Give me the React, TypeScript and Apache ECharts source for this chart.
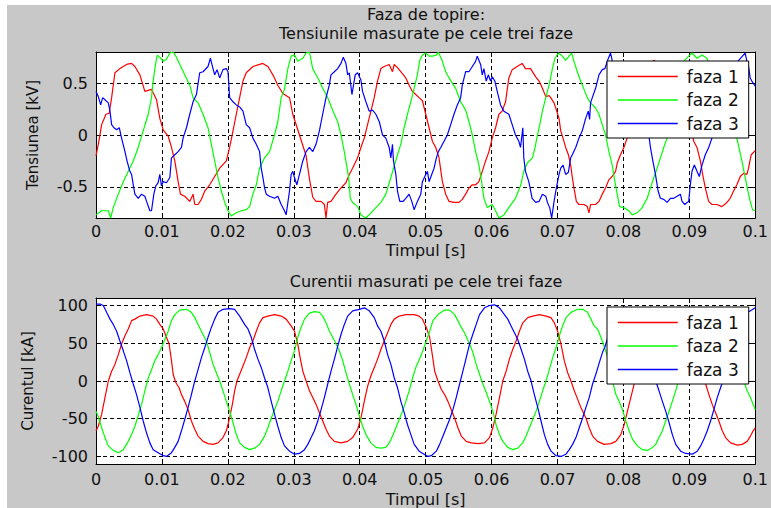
import React, { useEffect, useRef } from 'react';
import * as echarts from 'echarts';

// ---------- data (time in ms, values in kV / kA) ----------
const phaseNames = ['faza 1', 'faza 2', 'faza 3'];
const phaseColors = ['#ff0000', '#00ff00', '#0000ff'];
const voltTicks = [-0.5, 0, 0.5];
const currTicks = [-100, -50, 0, 50, 100];
const titleTop1 = 'Faza de topire:';
const titleTop2 = 'Tensiunile masurate pe cele trei faze';
const titleBottom = 'Curentii masurati pe cele trei faze';
const xName = 'Timpul [s]';
const yNameTop = 'Tensiunea [kV]';
const yNameBottom = 'Curentul [kA]';

const voltFaza1: [number, number][] = [
  [0,-0.2],[0.35,-0.09],[0.86,0.1],[1.51,0.2],[2.0,0.21],[2.37,0.36],[2.87,0.6],[3.63,0.64],[4.64,0.68],[5.4,0.69],[5.9,0.66],[6.66,0.58],[7.41,0.42],[8.42,0.44],[9.18,0.34],[9.68,0.16],[10.19,0.05],[10.94,-0.01],[11.45,-0.12],[11.95,-0.25],[12.46,-0.45],[12.81,-0.57],[13.46,-0.59],[14.22,-0.64],[14.72,-0.57],[14.98,-0.67],[15.48,-0.67],[15.99,-0.62],[16.49,-0.54],[17.25,-0.48],[18.0,-0.4],[18.76,-0.32],[19.77,-0.25],[20.27,-0.12],[20.78,0.04],[21.28,0.2],[21.79,0.36],[22.29,0.52],[22.79,0.6],[23.8,0.66],[25.3,0.69],[26.07,0.66],[26.83,0.58],[27.58,0.48],[28.34,0.4],[29.35,0.36],[29.85,0.2],[30.86,0.0],[31.87,-0.2],[32.37,-0.42],[32.88,-0.6],
  [33.37,-0.64],[34.13,-0.64],[34.64,-0.67],[34.89,-0.8],[35.14,-0.65],[35.64,-0.64],[36.4,-0.57],[37.16,-0.51],[37.91,-0.46],[38.42,-0.38],[38.92,-0.32],[39.68,-0.22],[40.18,-0.12],[40.69,-0.03],[41.19,0.1],[41.7,0.23],[42.2,0.36],[42.7,0.52],[43.21,0.64],[43.71,0.66],[44.47,0.68],[44.97,0.61],[45.23,0.68],[45.73,0.65],[46.23,0.61],[46.99,0.55],[47.49,0.48],[48.0,0.42],[48.5,0.39],[49.01,0.36],[49.51,0.33],[50.02,0.2],[50.52,0.07],[51.02,-0.06],[51.53,-0.12],[52.03,-0.22],[52.54,-0.45],[53.04,-0.57],[53.55,-0.64],[54.3,-0.65],[55.06,-0.65],[55.56,-0.62],[56.07,-0.57],[56.57,-0.51],[57.08,-0.48],[57.58,-0.48],[58.08,-0.45],[58.59,-0.35],[59.09,-0.25],[59.6,-0.16],[60.1,-0.03],[60.61,0.07],[61.11,0.2],[61.61,0.23],[62.12,0.32],[62.62,0.55],[63.13,0.63],[63.88,0.66],[64.64,0.69],[65.14,0.64],[65.9,0.64],
  [66.7,0.56],[67.21,0.52],[67.71,0.45],[68.22,0.37],[68.72,0.38],[68.97,0.36],[69.48,0.31],[69.83,0.24],[70.23,0.16],[70.49,0.04],[70.84,-0.03],[71.24,-0.12],[71.65,-0.19],[72.0,-0.29],[72.25,-0.41],[72.5,-0.51],[72.86,-0.64],[73.26,-0.67],[74.02,-0.67],[74.52,-0.69],[74.77,-0.75],[75.02,-0.67],[75.78,-0.67],[76.29,-0.64],[76.79,-0.57],[77.29,-0.51],[77.8,-0.43],[78.3,-0.4],[78.81,-0.35],[79.06,-0.27],[79.56,-0.19],[80.07,-0.12],[80.57,-0.03],[81.08,0.0],[81.5,0.12],[82.3,0.3],[83.0,0.52],[83.6,0.63],[84.6,0.72],[85.5,0.68],[86.5,0.62],[87.5,0.5],[88.5,0.4],[89.3,0.35],[90.0,0.15],[90.66,-0.06],[91.16,-0.12],[91.67,-0.25],[92.02,-0.38],[92.42,-0.51],[92.93,-0.64],[93.43,-0.67],[94.19,-0.67],[94.94,-0.69],[95.7,-0.65],[96.2,-0.61],[96.71,-0.54],[97.21,-0.48],[97.72,-0.4],[98.22,-0.37],[98.73,-0.38],[98.98,-0.32],[99.38,-0.19],[100,-0.15]
];

const voltFaza2: [number, number][] = [
  [0,-0.77],[0.86,-0.73],[1.87,-0.73],[2.22,-0.8],[2.62,-0.7],[3.38,-0.57],[4.14,-0.45],[4.89,-0.35],[5.65,-0.25],[6.4,-0.12],[7.16,0.04],[7.92,0.2],[8.42,0.36],[8.67,0.52],[8.93,0.64],[9.28,0.77],[9.68,0.75],[10.19,0.71],[10.69,0.73],[11.2,0.79],[11.7,0.8],[12.2,0.75],[12.71,0.68],[13.46,0.58],[14.22,0.48],[14.72,0.36],[15.48,0.31],[16.24,0.2],[16.99,0.07],[17.5,-0.09],[18.0,-0.25],[18.51,-0.41],[19.01,-0.54],[19.52,-0.65],[20.02,-0.73],[20.52,-0.78],[21.28,-0.75],[22.04,-0.73],[22.79,-0.72],[23.3,-0.69],[23.8,-0.57],[24.31,-0.48],[24.81,-0.32],[25.57,-0.22],[26.32,-0.16],[27.08,0.0],[27.58,0.13],[28.09,0.36],[28.59,0.44],[29.1,0.64],[29.6,0.76],[30.1,0.77],[30.61,0.71],[31.37,0.74],[31.87,0.79],[32.37,0.8],
  [32.87,0.64],[33.37,0.58],[33.88,0.52],[34.38,0.45],[35.14,0.36],[35.64,0.28],[36.15,0.2],[36.65,0.13],[37.16,0.0],[37.66,-0.16],[38.01,-0.29],[38.32,-0.41],[38.57,-0.61],[38.92,-0.65],[39.68,-0.69],[40.18,-0.77],[40.94,-0.8],[41.7,-0.75],[42.45,-0.7],[43.21,-0.65],[43.96,-0.57],[44.72,-0.41],[45.23,-0.3],[45.73,-0.19],[46.23,-0.09],[46.74,0.07],[47.24,0.2],[47.75,0.32],[48.25,0.45],[48.75,0.58],[49.11,0.72],[49.51,0.77],[50.02,0.79],[50.52,0.76],[51.02,0.76],[51.63,0.77],[51.93,0.8],[52.54,0.71],[53.04,0.61],[53.55,0.55],[54.05,0.5],[54.55,0.45],[55.31,0.32],[56.07,0.24],[56.57,0.13],[57.08,0.0],[57.58,-0.16],[58.08,-0.29],[58.49,-0.45],[58.84,-0.61],[59.35,-0.7],[60.1,-0.67],[60.61,-0.73],[61.11,-0.8],[61.87,-0.77],[62.62,-0.7],[63.63,-0.61],[64.39,-0.49],[64.89,-0.35],[65.4,-0.27],
  [66.2,-0.22],[66.6,-0.12],[66.96,0.0],[67.31,0.1],[67.71,0.23],[68.22,0.36],[68.72,0.48],[69.23,0.64],[69.63,0.74],[70.13,0.79],[70.74,0.76],[71.24,0.72],[71.75,0.76],[72.15,0.79],[72.5,0.71],[73.01,0.61],[73.51,0.52],[74.02,0.44],[74.52,0.36],[75.02,0.31],[75.78,0.26],[76.29,0.2],[76.79,0.1],[77.29,0.0],[77.8,-0.16],[78.3,-0.29],[78.71,-0.45],[79.06,-0.57],[79.41,-0.69],[80.07,-0.7],[80.82,-0.73],[81.33,-0.77],[82.08,-0.75],[82.84,-0.7],[83.6,-0.61],[84.1,-0.51],[84.61,-0.41],[85.11,-0.32],[85.61,-0.22],[86.12,-0.12],[86.62,-0.03],[87.3,0.15],[87.9,0.35],[88.5,0.55],[89.0,0.7],[89.9,0.76],[90.4,0.79],[91.16,0.74],[91.92,0.77],[92.67,0.74],[93.5,0.6],[94.5,0.45],[95.5,0.32],[96.5,0.15],[97.21,-0.03],[97.97,-0.25],[98.47,-0.41],[98.88,-0.54],[99.23,-0.64],[99.58,-0.72],[100,-0.73]
];

const voltFaza3: [number, number][] = [
  [0,0.42],[0.35,0.37],[0.71,0.29],[1.01,0.36],[1.36,0.34],[1.87,0.31],[2.12,0.23],[2.37,0.1],[2.72,0.07],[3.13,0.05],[3.53,0.07],[3.88,-0.03],[4.39,-0.16],[4.79,-0.27],[5.14,-0.35],[5.4,-0.38],[5.65,-0.48],[5.9,-0.57],[6.4,-0.61],[6.91,-0.57],[7.41,-0.59],[7.67,-0.64],[8.17,-0.73],[8.42,-0.73],[8.77,-0.57],[9.08,-0.49],[9.43,-0.46],[9.68,-0.38],[9.93,-0.49],[10.19,-0.45],[10.69,-0.46],[11.2,-0.41],[11.45,-0.22],[11.95,-0.19],[12.46,-0.16],[12.96,-0.12],[13.21,-0.03],[13.72,0.07],[14.22,0.2],[14.72,0.32],[15.23,0.39],[15.73,0.6],[16.24,0.61],[16.99,0.66],[17.35,0.74],[17.75,0.64],[18.0,0.58],[18.36,0.63],[18.76,0.55],[19.26,0.63],[19.77,0.64],[20.02,0.61],[20.27,0.36],[20.78,0.32],[21.28,0.29],[21.79,0.27],[22.29,0.23],[22.79,0.1],[23.3,0.07],[23.8,-0.03],[24.31,-0.09],[24.81,-0.16],[25.06,-0.32],[25.32,-0.41],[25.57,-0.51],[25.82,-0.57],[26.32,-0.59],[27.08,-0.61],[27.58,-0.59],[28.09,-0.67],[28.59,-0.73],[28.84,-0.77],[29.35,-0.54],[29.6,-0.38],[29.85,-0.35],[30.1,-0.41],[30.46,-0.48],[30.86,-0.38],[31.37,-0.25],[31.87,-0.16],[32.37,-0.12],[32.88,-0.16],
  [33.37,-0.09],[33.88,0.04],[34.38,0.2],[34.89,0.36],[35.39,0.48],[35.64,0.58],[36.15,0.61],[36.65,0.64],[37.16,0.69],[37.51,0.75],[37.91,0.69],[38.17,0.58],[38.42,0.6],[38.82,0.39],[39.32,0.58],[39.68,0.6],[40.18,0.53],[40.43,0.42],[40.94,0.32],[41.44,0.23],[41.95,0.24],[42.45,0.2],[42.96,0.13],[43.46,0.0],[43.96,-0.03],[44.47,-0.12],[44.72,-0.22],[44.97,-0.09],[45.12,-0.25],[45.48,-0.38],[45.73,-0.54],[46.08,-0.64],[46.59,-0.64],[46.99,-0.61],[47.49,-0.57],[47.9,-0.64],[48.25,-0.72],[48.75,-0.64],[49.26,-0.57],[49.51,-0.45],[50.02,-0.38],[50.27,-0.35],[50.52,-0.45],[50.92,-0.38],[51.28,-0.32],[51.63,-0.22],[51.93,-0.16],[52.29,-0.12],[52.79,-0.06],[53.29,0.0],[53.8,0.1],[54.3,0.2],[54.81,0.29],[55.31,0.36],[55.56,0.48],[56.07,0.61],[56.57,0.61],[57.08,0.66],[57.58,0.71],[57.83,0.76],[58.34,0.68],[58.59,0.58],[58.84,0.64],[59.19,0.52],[59.5,0.58],[59.85,0.52],[60.1,0.56],[60.5,0.52],[60.86,0.42],[61.36,0.29],[61.87,0.23],[62.62,0.2],[63.13,0.1],[63.63,0.0],[64.14,-0.06],[64.39,-0.12],[64.74,0.07],[64.89,-0.22],[65.14,-0.35],[65.65,-0.45],[66.15,-0.61],
  [66.7,-0.65],[67.21,-0.64],[67.71,-0.57],[68.22,-0.59],[68.47,-0.65],[68.82,-0.7],[69.12,-0.8],[69.48,-0.64],[69.83,-0.51],[70.23,-0.38],[70.49,-0.32],[70.84,-0.29],[71.24,-0.38],[71.65,-0.36],[72.0,-0.22],[72.25,-0.19],[72.76,-0.12],[73.26,-0.03],[73.76,0.04],[74.27,0.16],[74.67,0.23],[74.87,0.15],[75.02,0.31],[75.28,0.36],[75.78,0.45],[76.29,0.58],[76.79,0.63],[77.19,0.64],[77.6,0.72],[78.05,0.79],[78.5,0.66],[79.2,0.6],[80.0,0.58],[80.8,0.45],[81.6,0.32],[82.4,0.25],[83.2,0.12],[83.85,0.0],[84.1,-0.12],[84.46,-0.25],[84.86,-0.38],[85.26,-0.54],[85.61,-0.61],[86.12,-0.62],[86.62,-0.65],[87.13,-0.61],[87.63,-0.61],[88.14,-0.59],[88.64,-0.57],[88.89,-0.64],[89.3,-0.67],[89.65,-0.65],[89.9,-0.64],[90.15,-0.48],[90.4,-0.35],[90.76,-0.29],[91.16,-0.35],[91.51,-0.4],[91.92,-0.29],[92.42,-0.19],[92.93,-0.12],[93.43,-0.03],[94.2,0.15],[95.0,0.3],[95.8,0.45],[96.5,0.6],[97.2,0.7],[98.47,0.79],[98.73,0.71],[98.98,0.66],[99.23,0.55],[99.48,0.52],[100,0.47]
];

const currFaza1: [number, number][] = [
  [0,-66],[0.35,-60],[0.86,-44],[1.36,-22],[1.87,0],[2.37,13],[2.87,22],[3.38,35],[3.88,49],[4.39,60],[4.89,69],[5.4,80],[5.9,82],[6.66,86],[7.67,88],[8.67,86],[9.18,82],[9.68,75],[10.19,69],[10.69,58],[11.09,49],[11.45,27],[11.7,9],[12.1,-2],[12.61,-9],[12.96,-18],[13.46,-27],[13.97,-38],[14.47,-53],[14.98,-64],[15.48,-73],[16.24,-80],[16.99,-83],[17.75,-84],[18.51,-82],[19.26,-75],[19.77,-66],[20.27,-49],[20.68,-31],[21.03,-13],[21.38,0],[21.79,9],[22.29,20],[22.79,31],[23.3,44],[23.8,53],[24.31,66],[24.81,77],[25.32,84],[26.07,86],[27.08,88],[28.09,86],[28.84,82],[29.6,73],[30.1,66],[30.61,49],[30.96,31],[31.37,13],[31.87,0],[32.37,-13],[32.88,-22],[33.38,-31],[33.89,-42],[34.39,-53],[34.9,-64],[35.4,-73],[36.16,-80],[37.17,-82],[38.17,-80],[38.93,-75],[39.69,-64],[40.19,-49],[40.69,-27],[41.2,-7],[41.7,7],[42.21,18],[42.71,29],[43.22,42],[43.72,53],[44.23,64],[44.73,75],[45.24,82],[45.99,86],[47.0,88],[48.26,88],[49.02,86],[49.52,82],
  [50.1,71],[50.61,58],[51.01,35],[51.37,13],[51.87,0],[52.37,-11],[52.88,-18],[53.38,-27],[53.89,-38],[54.39,-49],[54.9,-62],[55.4,-73],[56.16,-80],[56.91,-82],[57.92,-83],[58.93,-82],[59.69,-75],[60.19,-62],[60.69,-44],[61.2,-22],[61.7,0],[62.21,13],[62.71,29],[63.22,42],[63.72,53],[64.22,66],[64.73,77],[65.48,84],[66.24,86],[67.25,88],[68.26,86],[69.01,84],[69.52,77],[70.02,66],[70.53,49],[71.03,27],[71.54,11],[72.04,0],[72.55,-13],[73.05,-24],[73.55,-35],[74.31,-49],[74.81,-62],[75.32,-73],[76.07,-80],[77.08,-84],[78.09,-83],[78.85,-80],[79.6,-71],[80.11,-58],[80.61,-40],[81.12,-22],[81.62,-4],[82.3,15],[83.0,33],[83.6,50],[84.2,66],[84.8,77],[85.6,84],[86.5,86],[87.5,88],[88.5,86],[89.3,84],[89.8,77],[90.3,66],[90.8,49],[91.3,27],[91.8,11],[92.36,-1],[92.97,-18],[93.47,-31],[93.98,-42],[94.48,-53],[94.99,-66],[95.49,-75],[96.25,-82],[97.26,-85],[98.01,-84],[98.77,-80],[99.27,-73],[99.68,-66],[100,-62]
];

const currFaza2: [number, number][] = [
  [0,-40],[0.35,-47],[0.86,-62],[1.36,-75],[1.87,-86],[2.62,-92],[3.38,-95],[4.14,-91],[4.89,-80],[5.4,-71],[5.9,-60],[6.4,-46],[6.91,-31],[7.41,-13],[7.92,4],[8.42,15],[8.93,27],[9.43,35],[9.93,44],[10.44,55],[10.94,66],[11.45,80],[11.95,88],[12.71,94],[13.72,95],[14.47,91],[14.98,84],[15.48,75],[15.99,66],[16.74,53],[17.25,38],[17.75,22],[18.26,11],[18.76,0],[19.26,-13],[19.77,-27],[20.27,-40],[20.78,-55],[21.28,-71],[21.79,-82],[22.54,-88],[23.3,-91],[24.05,-89],[24.81,-84],[25.57,-73],[26.07,-62],[26.58,-49],[27.08,-38],[27.58,-27],[28.09,-13],[28.59,0],[29.1,13],[29.6,27],[30.11,40],[30.61,58],[31.11,71],[31.62,82],[32.37,90],[33.13,92],[33.89,91],[34.39,86],[34.9,77],[35.4,66],[35.9,58],[36.41,49],[36.91,40],[37.42,27],[37.92,11],[38.43,-4],[38.93,-18],[39.43,-31],[39.94,-46],[40.44,-60],[40.95,-71],[41.7,-82],[42.46,-88],[43.22,-89],[43.97,-88],[44.48,-82],[44.98,-73],[45.49,-62],[45.99,-51],[46.49,-40],[47.0,-27],[47.5,-13],[48.01,4],[48.51,18],[49.27,33],
  [50.1,53],[50.61,66],[51.11,80],[51.87,88],[52.88,94],[53.63,94],[54.39,88],[54.9,80],[55.4,71],[55.9,64],[56.66,49],[57.16,38],[57.67,22],[58.17,9],[58.68,-4],[59.18,-15],[59.69,-27],[60.19,-40],[60.69,-58],[61.2,-71],[61.7,-80],[62.46,-88],[63.22,-91],[63.97,-89],[64.73,-82],[65.23,-73],[65.74,-62],[66.24,-51],[66.75,-40],[67.25,-27],[67.75,-13],[68.26,0],[68.76,15],[69.27,31],[69.77,44],[70.28,60],[70.78,73],[71.28,84],[72.04,91],[73.05,95],[73.81,95],[74.56,91],[75.07,82],[75.57,73],[76.07,69],[76.58,58],[77.08,46],[77.5,35],[78.0,15],[78.34,0],[78.85,-18],[79.35,-27],[79.86,-38],[80.36,-53],[80.87,-66],[81.37,-77],[82.13,-86],[82.88,-91],[83.64,-92],[84.4,-88],[84.9,-84],[85.4,-75],[85.91,-66],[86.41,-53],[86.92,-40],[87.42,-27],[87.93,-13],[88.33,0],[88.8,15],[89.3,31],[89.8,46],[90.3,62],[90.8,75],[91.3,85],[92.0,91],[93.0,95],[93.8,94],[94.5,90],[95.0,82],[95.5,73],[96.0,66],[96.6,53],[97.1,38],[97.6,22],[98.0,8],[98.26,0],[98.77,-13],[99.27,-22],[99.78,-33],[100,-38]
];

const currFaza3: [number, number][] = [
  [0,102],[0.61,102],[1.11,100],[1.61,91],[2.12,82],[2.62,75],[3.13,66],[3.63,53],[4.14,40],[4.64,27],[5.14,11],[5.65,-4],[6.15,-18],[6.66,-35],[7.16,-53],[7.67,-69],[8.17,-82],[8.67,-91],[9.43,-95],[10.19,-99],[10.69,-100],[11.45,-95],[11.95,-88],[12.46,-80],[12.96,-66],[13.46,-51],[13.97,-35],[14.47,-18],[14.98,0],[15.48,15],[15.99,31],[16.49,44],[16.99,58],[17.5,71],[18.0,82],[18.51,91],[19.26,95],[20.27,96],[21.03,95],[21.79,86],[22.54,75],[23.05,69],[23.55,58],[24.05,42],[24.56,29],[25.06,18],[25.57,4],[26.07,-9],[26.58,-27],[27.08,-44],[27.58,-60],[28.09,-75],[28.59,-86],[29.35,-93],[30.11,-97],[30.86,-96],[31.62,-91],[32.13,-84],[32.63,-75],[33.13,-66],[33.64,-53],[34.14,-38],[34.64,-22],[35.15,-4],[35.65,13],[36.16,29],[36.66,46],[37.17,62],[37.67,75],[38.17,86],[38.93,93],[39.94,95],[40.7,97],[41.45,93],[42.21,84],[42.71,73],[43.22,66],[43.72,53],[44.23,35],[44.73,22],[45.24,4],[45.74,-9],[46.24,-27],[46.75,-42],[47.25,-58],[47.76,-71],[48.26,-84],[49.02,-93],[49.77,-97],
  [50.36,-100],[50.86,-99],[51.62,-93],[52.12,-84],[52.63,-73],[53.13,-62],[53.63,-51],[54.14,-38],[54.64,-22],[55.15,-4],[55.65,13],[56.16,31],[56.66,49],[57.16,62],[57.67,75],[58.17,88],[58.93,97],[59.69,100],[60.44,101],[61.2,97],[61.7,91],[62.46,82],[62.96,73],[63.47,64],[63.97,55],[64.48,42],[64.98,29],[65.48,13],[65.99,0],[66.49,-18],[67.0,-35],[67.5,-53],[68.01,-71],[68.51,-84],[69.02,-93],[69.77,-99],[70.53,-100],[71.28,-97],[71.79,-91],[72.29,-84],[72.8,-75],[73.3,-62],[73.81,-49],[74.31,-35],[74.81,-22],[75.32,-4],[75.82,9],[76.33,24],[76.83,38],[77.23,46],[77.7,60],[78.2,73],[78.8,85],[79.5,94],[80.3,98],[81.0,97],[81.6,92],[82.2,83],[82.8,72],[83.4,57],[84.0,38],[84.5,18],[84.9,0],[85.4,-13],[85.91,-27],[86.41,-40],[86.92,-55],[87.42,-71],[87.93,-84],[88.68,-93],[89.44,-96],[90.45,-97],[91.2,-93],[91.71,-86],[92.21,-77],[92.72,-66],[93.22,-53],[93.72,-38],[94.23,-22],[94.73,-9],[95.09,0],[95.6,18],[96.1,35],[96.6,52],[97.1,66],[97.6,78],[98.1,87],[98.6,91],[99.27,93],[100,97]
];

const voltSeries = [voltFaza1, voltFaza2, voltFaza3];
const currSeries = [currFaza1, currFaza2, currFaza3];

// ---------- styling ----------
const FONT = '"DejaVu Sans", sans-serif';
const TEXT = '#111';
const gridDash = { color: '#000', width: 1, type: [4, 3] as number[] };

function xAxes(gridIndex: number, labelMargin: number, nameGap: number) {
  const common = {
    gridIndex,
    type: 'value' as const,
    min: 0,
    max: 0.1,
    interval: 0.01,
  };
  return [
    {
      ...common,
      position: 'bottom',
      axisLine: { show: true, onZero: false, lineStyle: { color: '#000', width: 1 } },
      axisTick: { show: true, inside: true, length: 5, lineStyle: { color: '#000' } },
      axisLabel: { margin: labelMargin, fontSize: 16, fontFamily: FONT, color: TEXT },
      splitLine: { show: true, lineStyle: gridDash },
      name: xName,
      nameLocation: 'middle',
      nameGap,
      nameTextStyle: { fontSize: 16, fontFamily: FONT, color: TEXT },
    },
    {
      ...common,
      position: 'top',
      axisLine: { show: true, onZero: false, lineStyle: { color: '#000', width: 1 } },
      axisTick: { show: true, inside: true, length: 5, lineStyle: { color: '#000' } },
      axisLabel: { show: false },
      splitLine: { show: false },
    },
  ];
}

function yAxes(gridIndex: number, min: number, max: number, ticks: number[], name: string, nameGap: number, nameSize: number) {
  const common = { gridIndex, type: 'value' as const, min, max };
  return [
    {
      ...common,
      position: 'left',
      axisLine: { show: true, onZero: false, lineStyle: { color: '#000', width: 1 } },
      axisTick: { show: true, inside: true, length: 5, customValues: ticks, lineStyle: { color: '#000' } },
      axisLabel: { margin: 8, fontSize: 16, fontFamily: FONT, color: TEXT, customValues: ticks },
      splitLine: { show: true, lineStyle: gridDash },
      name,
      nameLocation: 'middle',
      nameGap,
      nameRotate: 90,
      nameTextStyle: { fontSize: nameSize, fontFamily: FONT, color: TEXT },
    },
    {
      ...common,
      position: 'right',
      axisLine: { show: true, onZero: false, lineStyle: { color: '#000', width: 1 } },
      axisTick: { show: true, inside: true, length: 5, customValues: ticks, lineStyle: { color: '#000' } },
      axisLabel: { show: false },
      splitLine: { show: false },
    },
  ];
}

function legendAt(top: number) {
  return {
    data: phaseNames.map((name, i) => ({
      name,
      lineStyle: { color: phaseColors[i], width: 1.5 },
    })),
    orient: 'vertical',
    left: 607,
    top,
    selectedMode: false,
    backgroundColor: '#fff',
    borderColor: '#000',
    borderWidth: 1,
    borderRadius: 0,
    padding: [7, 10, 6, 10],
    itemWidth: 60,
    itemHeight: 14,
    itemGap: 6.5,
    itemStyle: { opacity: 0 },
    textStyle: { fontSize: 17, fontFamily: FONT, color: TEXT, padding: [0, 0, 0, 4] },
  };
}

export default function App() {
  const ref = useRef<HTMLDivElement>(null);

  useEffect(() => {
    if (!ref.current) return;
    const chart = echarts.init(ref.current, undefined, { renderer: 'svg' });

    const series: any[] = [];
    voltSeries.forEach((s, i) => {
      series.push({
        type: 'line',
        name: phaseNames[i],
        xAxisIndex: 0,
        yAxisIndex: 0,
        data: s.map(([ms, v]) => [ms / 1000, v]),
        showSymbol: false,
        symbol: 'none',
        color: phaseColors[i],
        lineStyle: { color: phaseColors[i], width: 1.2 },
        z: 2,
      });
    });
    currSeries.forEach((s, i) => {
      series.push({
        type: 'line',
        name: phaseNames[i],
        xAxisIndex: 2,
        yAxisIndex: 2,
        data: s.map(([ms, v]) => [ms / 1000, v]),
        showSymbol: false,
        symbol: 'none',
        color: phaseColors[i],
        lineStyle: { color: phaseColors[i], width: 1.2 },
        z: 2,
      });
    });

    const titleStyle = { font: `16px ${FONT}`, fill: TEXT, align: 'center', verticalAlign: 'middle' };

    chart.setOption({
      animation: false,
      backgroundColor: 'transparent',
      grid: [
        { left: 96, top: 52, width: 661, height: 166, show: true, backgroundColor: '#fff', borderWidth: 0 },
        { left: 96, top: 298, width: 661, height: 166, show: true, backgroundColor: '#fff', borderWidth: 0 },
      ],
      xAxis: [...xAxes(0, 5, 24), ...xAxes(1, 7, 27)],
      yAxis: [
        ...yAxes(0, -0.8, 0.8, voltTicks, yNameTop, 56, 15),
        ...yAxes(1, -110, 110, currTicks, yNameBottom, 61, 15),
      ],
      legend: [legendAt(61), legendAt(307)],
      graphic: [
        { type: 'text', x: 426, y: 14, style: { text: titleTop1, ...titleStyle } },
        { type: 'text', x: 426, y: 33.5, style: { text: titleTop2, ...titleStyle } },
        { type: 'text', x: 426, y: 281, style: { text: titleBottom, ...titleStyle } },
      ],
      series,
    });

    return () => chart.dispose();
  }, []);

  return (
    <div style={{ position: 'fixed', left: 0, top: 0, width: 771, height: 508, background: '#fff' }}>
      <div style={{ position: 'absolute', left: 7, top: 5, right: 0, bottom: 0, background: '#c8c8c8' }} />
      <div ref={ref} style={{ position: 'absolute', left: 0, top: 0, width: 771, height: 508 }} />
    </div>
  );
}
